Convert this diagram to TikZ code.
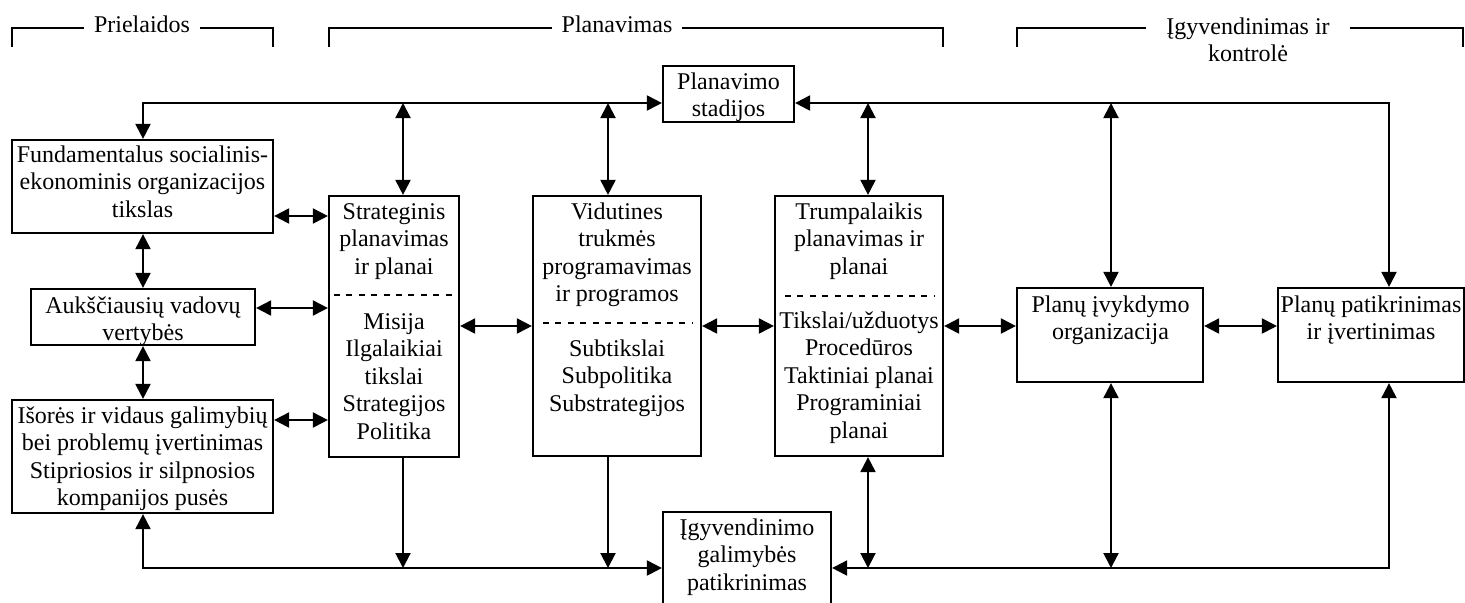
\documentclass[tikz,border=0pt]{standalone}
\usepackage{fontspec}
\setmainfont{Liberation Serif}
\usetikzlibrary{arrows.meta}

% text block whose first baseline sits at the given y (units: 0.5pt)
\newcommand{\boxtext}[4]{\node[txt] (#1) at (#2,#3-19.25) {\strut#4};}

\begin{document}
\begin{tikzpicture}[x=0.5pt,y=-0.5pt,
  every node/.style={font=\fontsize{12pt}{13.75pt}\selectfont},
  box/.style={draw, line width=1.1pt, rectangle, inner sep=0pt},
  txt/.style={align=center, anchor=north, inner sep=0pt},
  tip/.tip={Triangle[length=7.5pt,width=7.5pt]},
  conn/.style={line width=1pt, -tip},
  biconn/.style={line width=1pt, tip-tip},
  plain/.style={line width=1pt},
  sep/.style={line width=0.6pt, dash pattern=on 3pt off 3.2pt},
  hdr/.style={fill=white, inner xsep=5pt, inner ysep=1pt, anchor=base},
  hdrtwo/.style={fill=white, inner xsep=10pt, inner ysep=1pt, align=center, anchor=north}
]
\useasboundingbox (0,0) rectangle (1465,602);

% ---- section headers ----
\draw[plain] (12,47) -- (12,28) -- (273,28) -- (273,47);
\draw[plain] (329,47) -- (329,28) -- (943,28) -- (943,47);
\draw[plain] (1017,47) -- (1017,28) -- (1463,28) -- (1463,47);
\node[hdr] (hpre) at (142,32) {Prielaidos};
\node[hdr] (hplan) at (617,32) {Planavimas};
\node[hdrtwo] (himpl) at (1248,32-19.25) {\strut Įgyvendinimas ir\\kontrolė};

% ---- boxes ----
\node[box, minimum width=65.5pt, minimum height=28pt]   (stad)  at (728.5,94) {};
\node[box, minimum width=130.5pt, minimum height=46.5pt] (fund)  at (142.5,186.5) {};
\node[box, minimum width=112pt, minimum height=28pt]    (auk)   at (143,317) {};
\node[box, minimum width=130.5pt, minimum height=56.5pt] (isor)  at (142.5,456.5) {};
\node[box, minimum width=65pt, minimum height=130.5pt]  (strat) at (394,326.5) {};
\node[box, minimum width=84pt, minimum height=130pt]    (vid)   at (617,326) {};
\node[box, minimum width=84pt, minimum height=130pt]    (trump) at (859,326) {};
\node[box, minimum width=93pt, minimum height=47pt]     (ivyk)  at (1110,335) {};
\node[box, minimum width=93pt, minimum height=47pt]     (patik) at (1371,335) {};
\node[box, minimum width=84pt, minimum height=51.5pt]   (igyv)  at (747,563.5) {};

% ---- box texts ----
\boxtext{tstad}{728.5}{89}{Planavimo\\stadijos}
\boxtext{tfund}{142.5}{162}{Fundamentalus socialinis-\\ekonominis organizacijos\\tikslas}
\boxtext{tauk}{143}{313}{Aukščiausių vadovų\\vertybės}
\boxtext{tisor}{142.5}{423}{Išorės ir vidaus galimybių\\bei problemų įvertinimas\\Stipriosios ir silpnosios\\kompanijos pusės}
\boxtext{tstrata}{394}{219}{Strateginis\\planavimas\\ir planai}
\boxtext{tstratb}{394}{329}{Misija\\Ilgalaikiai\\tikslai\\Strategijos\\Politika}
\boxtext{tvida}{617}{219}{Vidutines\\trukmės\\programavimas\\ir programos}
\boxtext{tvidb}{617}{356}{Subtikslai\\Subpolitika\\Substrategijos}
\boxtext{ttrumpa}{859}{219}{Trumpalaikis\\planavimas ir\\planai}
\boxtext{ttrumpb}{859}{328}{Tikslai/užduotys\\Procedūros\\Taktiniai planai\\Programiniai\\planai}
\boxtext{tivyk}{1110.5}{312}{Planų įvykdymo\\organizacija}
\boxtext{tpatik}{1371}{312}{Planų patikrinimas\\ir įvertinimas}
\boxtext{tigyv}{747}{535}{Įgyvendinimo\\galimybės\\patikrinimas}

% ---- dashed separators inside the planning boxes ----
\draw[sep] (334,295) -- (455,295);
\draw[sep] (543,323) -- (693,323);
\draw[sep] (785,296) -- (934,296);

% ---- bus coordinates ----
\coordinate (tl) at (143,103);
\coordinate (tr) at (1389,103);
\coordinate (bl) at (143,568);
\coordinate (br) at (1389,568);
\coordinate (ts1) at (403,103);
\coordinate (ts2) at (608,103);
\coordinate (ts3) at (868,103);
\coordinate (ts4) at (1111,103);
\coordinate (bs1) at (403,568);
\coordinate (bs2) at (608,568);
\coordinate (bs3) at (868,568);
\coordinate (bs4) at (1111,568);
\coordinate (hy1) at (0,216);
\coordinate (hy2) at (0,308);
\coordinate (hy3) at (0,420);
\coordinate (hym) at (0,326);

% ---- top bus ----
\draw[biconn] (fund.north -| tl) -- (tl) -- (tl -| stad.west);
\draw[biconn] (tr -| stad.east) -- (tr) -- (tr |- patik.north);
\draw[biconn] (ts1) -- (ts1 |- strat.north);
\draw[biconn] (ts2) -- (ts2 |- vid.north);
\draw[biconn] (ts3) -- (ts3 |- trump.north);
\draw[biconn] (ts4) -- (ts4 |- ivyk.north);

% ---- bottom bus ----
\draw[biconn] (isor.south -| bl) -- (bl) -- (bl -| igyv.west);
\draw[biconn] (br -| igyv.east) -- (br) -- (br |- patik.south);
\draw[conn] (bs1 |- strat.south) -- (bs1);
\draw[conn] (bs2 |- vid.south) -- (bs2);
\draw[biconn] (bs3 |- trump.south) -- (bs3);
\draw[biconn] (bs4 |- ivyk.south) -- (bs4);

% ---- left column ----
\draw[biconn] (fund.south -| tl) -- (auk.north -| tl);
\draw[biconn] (auk.south -| tl) -- (isor.north -| tl);
\draw[biconn] (fund.east |- hy1) -- (strat.west |- hy1);
\draw[biconn] (auk.east |- hy2) -- (strat.west |- hy2);
\draw[biconn] (isor.east |- hy3) -- (strat.west |- hy3);

% ---- middle row ----
\draw[biconn] (strat.east |- hym) -- (vid.west |- hym);
\draw[biconn] (vid.east |- hym) -- (trump.west |- hym);
\draw[biconn] (trump.east |- hym) -- (ivyk.west |- hym);
\draw[biconn] (ivyk.east |- hym) -- (patik.west |- hym);
\end{tikzpicture}
\end{document}
